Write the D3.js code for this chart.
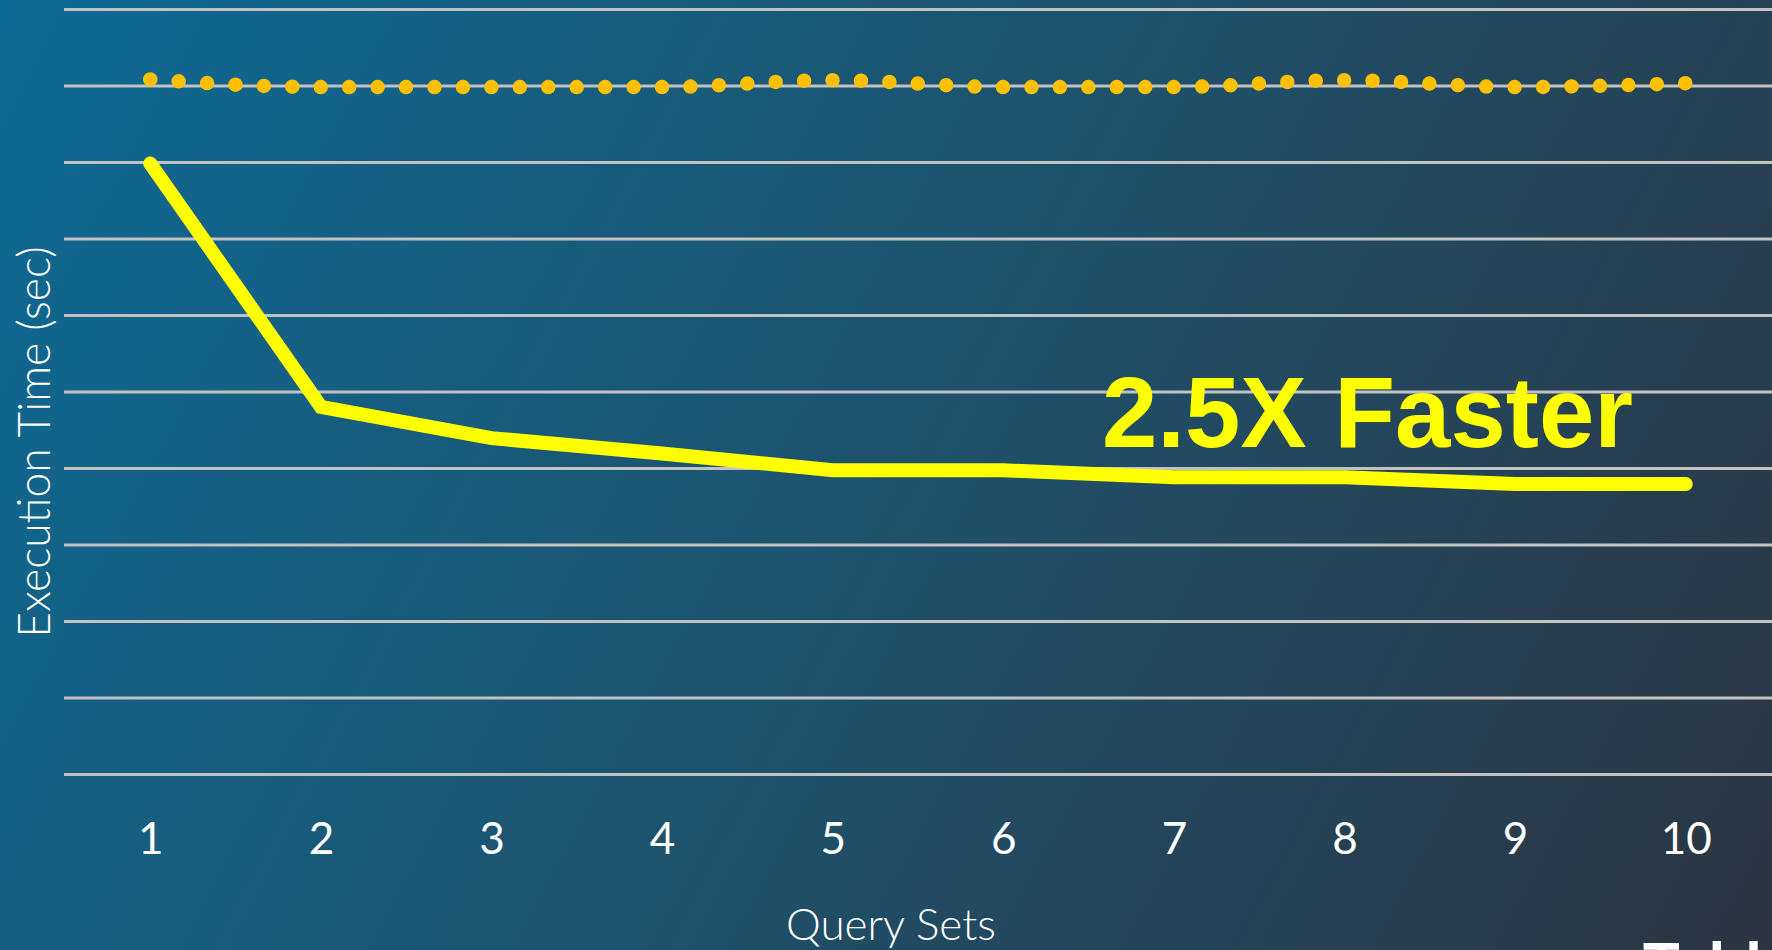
<!DOCTYPE html>
<html>
<head>
<meta charset="utf-8">
<script src="https://cdn.jsdelivr.net/npm/d3@7"></script>
<style>
  html, body { margin: 0; padding: 0; overflow: hidden; background: #1d526c; }
  svg { display: block; }
</style>
</head>
<body>
<svg id="chart" width="1772" height="950"></svg>
<script>
// Query sets on the x axis
const querySets = [1, 2, 3, 4, 5, 6, 7, 8, 9, 10];
// Execution time (sec) of the previous engine, drawn dotted
const baselineTimes = [90.8, 89.8, 89.8, 89.8, 90.7, 89.8, 89.8, 90.7, 89.8, 90.3];
// Execution time (sec) of the new engine, drawn solid
const optimizedTimes = [79.8, 48.0, 43.9, 41.9, 39.7, 39.7, 38.8, 38.8, 37.9, 37.9];
// Horizontal grid values
const gridTicks = d3.range(0, 101, 10);

const W = 1772, H = 950;
const svg = d3.select("#chart");

// Diagonal background gradient
const defs = svg.append("defs");
const grad = defs.append("linearGradient")
  .attr("id", "bg")
  .attr("gradientUnits", "userSpaceOnUse")
  .attr("x1", 0).attr("y1", 0).attr("x2", W).attr("y2", H);
grad.append("stop").attr("offset", 0).attr("stop-color", "#0e6a95");
grad.append("stop").attr("offset", 0.5).attr("stop-color", "#1d526c");
grad.append("stop").attr("offset", 1).attr("stop-color", "#2d3441");
svg.append("rect").attr("width", W).attr("height", H).attr("fill", "url(#bg)");

const x = d3.scalePoint().domain(querySets).range([65, 1771]).padding(0.5);
const y = d3.scaleLinear().domain([0, 100]).range([774, 9]);

// Gridlines
const grid = svg.append("g")
  .attr("transform", "translate(64,0)")
  .call(d3.axisLeft(y).tickValues(gridTicks).tickSize(-(W - 64)).tickFormat(""));
grid.select(".domain").remove();
grid.selectAll(".tick line")
  .attr("stroke", "#c2c2c2")
  .attr("stroke-width", 2.8);

// Category labels
const xAxis = svg.append("g")
  .attr("transform", "translate(0,774)")
  .call(d3.axisBottom(x).tickSize(0).tickPadding(49));
xAxis.select(".domain").remove();
xAxis.selectAll("text")
  .attr("fill", "#ffffff")
  .style("font-family", "Lato, 'Open Sans', sans-serif")
  .style("font-weight", 400)
  .style("font-size", "44px");

// Dotted baseline series: round-capped zero-length dashes, six per step
const smooth = d3.line()
  .x((d, i) => x(querySets[i]))
  .y(d => y(d))
  .curve(d3.curveMonotoneX);
const dotted = svg.append("path")
  .datum(baselineTimes)
  .attr("d", smooth)
  .attr("fill", "none")
  .attr("stroke", "#ffc000")
  .attr("stroke-width", 14.5)
  .attr("stroke-linecap", "round");
const len = dotted.node().getTotalLength();
const dotsPerStep = 6;
const gap = (len - 0.5) / ((querySets.length - 1) * dotsPerStep);
dotted.attr("stroke-dasharray", `0 ${gap}`);

// Solid optimized series
const straight = d3.line()
  .x((d, i) => x(querySets[i]))
  .y(d => y(d));
svg.append("path")
  .datum(optimizedTimes)
  .attr("d", straight)
  .attr("fill", "none")
  .attr("stroke", "#ffff00")
  .attr("stroke-width", 14)
  .attr("stroke-linecap", "round")
  .attr("stroke-linejoin", "miter");

// Axis titles
svg.append("text")
  .attr("x", 891).attr("y", 940)
  .attr("text-anchor", "middle")
  .attr("fill", "#ffffff")
  .style("font-family", "Lato, sans-serif")
  .style("font-weight", 300)
  .style("font-size", "44px")
  .text("Query Sets");

svg.append("text")
  .attr("transform", "translate(50,442) rotate(-90)")
  .attr("text-anchor", "middle")
  .attr("fill", "#ffffff")
  .style("font-family", "Lato, sans-serif")
  .style("font-weight", 300)
  .style("font-size", "44.5px")
  .text("Execution Time (sec)");

// Callout
svg.append("text")
  .attr("x", 1102).attr("y", 447)
  .attr("fill", "#ffff00")
  .style("font-family", "'Liberation Sans', Arial, sans-serif")
  .style("font-weight", 700)
  .style("font-size", "99.5px")
  .text("2.5X Faster");

// Brand mark at the lower edge
svg.append("text")
  .attr("x", 1643).attr("y", 984)
  .attr("fill", "#ffffff")
  .style("font-family", "'Liberation Sans', Arial, sans-serif")
  .style("font-weight", 700)
  .style("font-size", "60px")
  .text("Tableau");
</script>
</body>
</html>
